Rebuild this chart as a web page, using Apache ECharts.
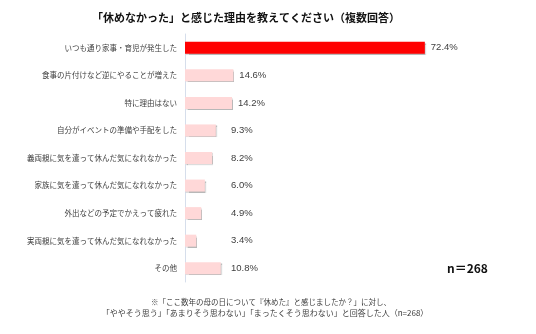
<!DOCTYPE html>
<html><head><meta charset="utf-8">
<script src="https://cdn.jsdelivr.net/npm/echarts@6/dist/echarts.min.js"></script>
<style>html,body{margin:0;padding:0;background:#fff}#c{width:536px;height:334px}</style>
</head><body><div id="c"></div>
<script>
const categories = [
  'いつも通り家事・育児が発生した',
  '食事の片付けなど逆にやることが増えた',
  '特に理由はない',
  '自分がイベントの準備や手配をした',
  '義両親に気を遣って休んだ気になれなかった',
  '家族に気を遣って休んだ気になれなかった',
  '外出などの予定でかえって疲れた',
  '実両親に気を遣って休んだ気になれなかった',
  'その他'
];
const values = [72.4, 14.6, 14.2, 9.3, 8.2, 6.0, 4.9, 3.4, 10.8];
const titleText = '「休めなかった」と感じた理由を教えてください（複数回答）';
const sampleText = 'n＝268';
const noteLines = [
  '※「ここ数年の母の日について『休めた』と感じましたか？」に対し、',
  '「ややそう思う」「あまりそう思わない」「まったくそう思わない」と回答した人（n=268）'
];

const FONT = '"Noto Sans CJK JP", "Noto Sans", sans-serif';
const gridLeft = 185, gridWidth = 265, xMax = 80;
const pxPerUnit = gridWidth / xMax;

const chart = echarts.init(document.getElementById('c'), null, {renderer: 'canvas'});
chart.setOption({
  animation: false,
  backgroundColor: '#fff',
  title: {
    text: titleText,
    left: 241, top: 7, textAlign: 'center',
    textStyle: {fontFamily: FONT, fontSize: 11, fontWeight: 'bold', color: '#111'}
  },
  graphic: [
    {type: 'text', left: 447, top: 262, style: {text: sampleText, font: 'bold 12px ' + FONT, fill: '#111'}},
    {type: 'text', x: 271, y: 302, style: {text: noteLines[0], font: '7.5px ' + FONT, fill: '#404040', textAlign: 'center', textVerticalAlign: 'middle'}},
    {type: 'text', x: 265, y: 313, style: {text: noteLines[1], font: '8px ' + FONT, fill: '#404040', textAlign: 'center', textVerticalAlign: 'middle'}}
  ],
  grid: {left: gridLeft, width: gridWidth, top: 34, height: 248, containLabel: false},
  xAxis: {
    type: 'value', min: 0, max: xMax, show: false, splitLine: {show: false}
  },
  yAxis: {
    type: 'category', data: categories, inverse: true,
    axisTick: {show: false},
    axisLine: {show: true, lineStyle: {color: '#D6DEEB', width: 1}},
    axisLabel: {fontFamily: FONT, fontSize: 7.5, color: '#404040', margin: 8}
  },
  series: [{
    type: 'bar',
    barWidth: 12,
    data: values.map((v, i) => ({
      value: v,
      itemStyle: {
        color: i === 0 ? '#FF0000' : '#FFD8D8',
        shadowColor: 'rgba(0,0,0,0.28)', shadowOffsetX: 1, shadowOffsetY: 1, shadowBlur: 1
      },
      label: {
        show: true,
        position: [Math.max(v * pxPerUnit + 6, 46), '50%'],
        verticalAlign: 'middle',
        formatter: p => p.value.toFixed(1) + '%',
        fontFamily: '"Liberation Sans", Arial, sans-serif', fontSize: 9.5, color: '#404040'
      }
    }))
  }]
});
</script></body></html>
